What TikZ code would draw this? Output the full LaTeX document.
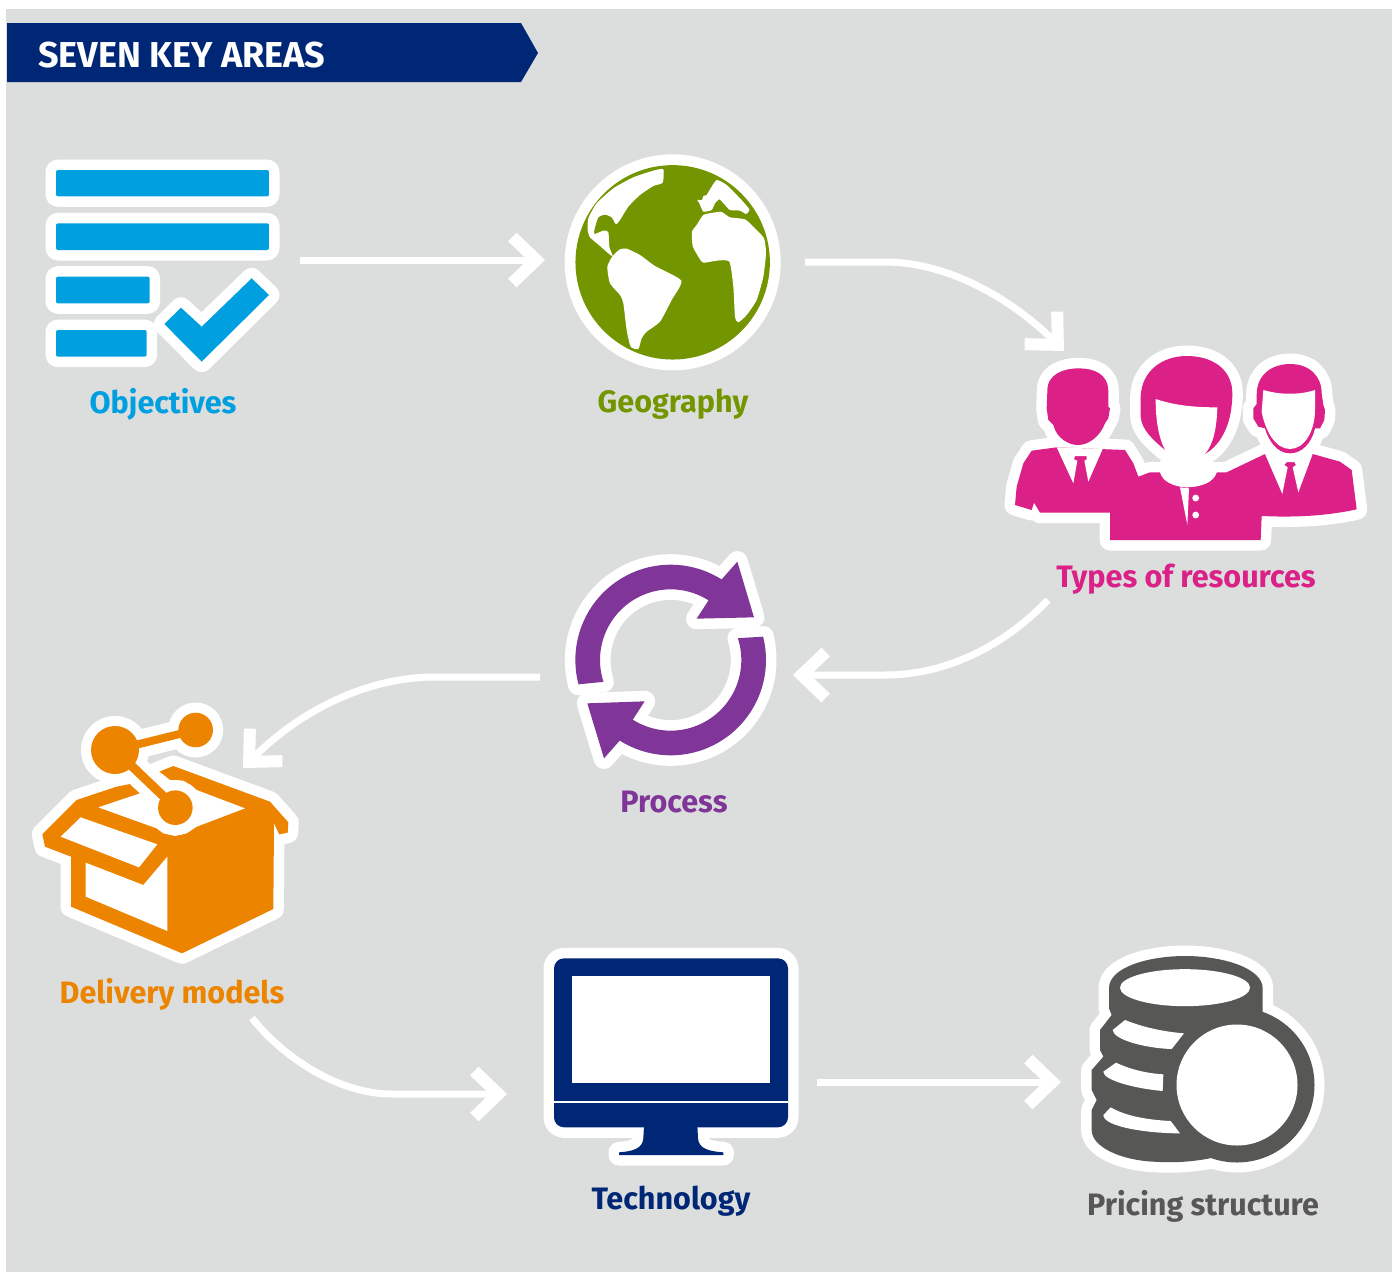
\documentclass[tikz,border=0pt]{standalone}
\usepackage{fontspec}
\setmainfont{Fira Sans}
\usetikzlibrary{arrows.meta}
\definecolor{bggray}{HTML}{DCDEDE}
\definecolor{navy}{HTML}{002776}
\definecolor{cblue}{HTML}{009FDF}
\definecolor{cgreen}{HTML}{739600}
\definecolor{cpink}{HTML}{DB2187}
\definecolor{cpurple}{HTML}{7F3698}
\definecolor{corange}{HTML}{EC8400}
\definecolor{cgrey}{HTML}{575756}
\tikzset{
  halo/.style={draw=white,line width=21pt,line join=round},
  cut/.style={fill=white},
  lab/.style={font=\fontsize{31}{31}\selectfont\bfseries,inner sep=0pt,transform shape,xscale=.985},
  flow/.style={draw=white,line width=7pt,-{Straight Barb[length=24pt,width=46pt,line width=12pt]}},
  zoomed/.style={x=0.33333pt,y=-0.33333pt}
}
\newcommand\halofill[2]{\path[halo] #2; \path[fill=#1] #2;}
\begin{document}
\begin{tikzpicture}[x=1pt,y=-1pt]
\useasboundingbox (0,0) rectangle (1397,1272);
\fill[white] (0,0) rectangle (1397,1272);
\fill[bggray] (6,9) rectangle (1392,1272);
% banner
\fill[navy] (7,23) -- (521,23) -- (538,53) -- (521,82) -- (7,82) -- cycle;
\node[anchor=west,text=white,font=\fontsize{36}{36}\selectfont\bfseries,inner sep=0pt] (title) at (38,55.5) {SEVEN KEY AREAS};

% objectives
\begin{scope}[shift={(30,150)},zoomed]
\foreach \a/\b/\c/\d in {78/60/717/139,78/220/717/300,78/380/359/460,78/540/350/620}{
  \path[halo,fill=white,rounded corners=2pt] (\a,\b) rectangle (\c,\d);
  \path[fill=cblue,rounded corners=2pt] (\a,\b) rectangle (\c,\d);
}
\halofill{cblue}{(403,522) -- (453,473) -- (515,530) -- (665,385) -- (717,435) -- (515,635) -- cycle}
\end{scope}

% globe
\begin{scope}[shift={(540,140)},zoomed]
\path[fill=white] (398,367) circle[radius=108pt];
\path[fill=cgreen] (398,367) circle[radius=97.2pt];
\fill[white] plot[smooth cycle,tension=.35] coordinates {(370,88)(368,128)(340,138)(300,165)(265,200)(240,240)(228,253)(215,232)(195,224)(175,232)(165,262)(163,282)(190,272)(205,276)(208,320)(218,348)(205,340)(180,318)(150,292)(143,270)(145,235)(170,190)(220,145)(280,112)(340,92)};
\fill[white] plot[smooth cycle,tension=.35] coordinates {(218,348)(240,328)(260,326)(300,345)(345,378)(424,422)(395,480)(360,545)(320,575)(305,595)(295,627)(272,620)(260,570)(250,490)(240,465)(210,430)(202,380)};
\fill[white] plot[smooth cycle,tension=.3] coordinates {(530,120)(560,135)(600,175)(628,208)(618,222)(600,212)(570,210)(555,195)(538,178)(525,190)(515,210)(490,215)(478,190)(472,180)(486,180)(490,168)(500,165)(510,148)};
\fill[white] plot[smooth cycle,tension=.35] coordinates {(490,225)(520,218)(545,216)(570,232)(615,238)(645,265)(672,295)(678,340)(670,410)(650,480)(620,525)(595,547)(585,530)(580,440)(568,365)(530,362)(490,368)(475,350)(458,318)(456,275)(470,255)};
\end{scope}

% people
\begin{scope}[shift={(990,330)},zoomed]
\def\bodyshape{(125,362) -- (200,352) -- (405,360) -- (430,400) -- (445,440) -- (480,427) -- (510,427) .. controls (520,460) and (560,470) .. (590,472) .. controls (630,470) and (670,460) .. (680,427) -- (710,427) -- (825,372) -- (968,372) -- (1050,395) -- (1085,420) -- (1100,538) .. controls (1000,560) and (900,562) .. (815,558) -- (812,630) -- (360,630) -- (360,548) -- (150,548) -- (132,518) -- (125,540) -- (75,525) -- (80,470) -- (100,400) -- cycle}
\def\leftshape{(172,185) .. controls (170,130) and (225,115) .. (265,115) .. controls (310,115) and (355,130) .. (355,185) -- (355,230) -- (360,235) -- (355,265) -- (345,280) .. controls (330,320) and (295,345) .. (265,345) .. controls (235,345) and (200,325) .. (190,285) -- (175,270) -- (170,235) -- cycle}
\def\midshape{(452,200) .. controls (455,120) and (520,78) .. (590,78) .. controls (670,78) and (727,120) .. (727,190) .. controls (727,270) and (700,340) .. (645,372) -- (525,360) .. controls (490,330) and (455,300) .. (452,260) -- cycle}
\def\rightshape{(800,195) .. controls (800,130) and (850,102) .. (900,102) .. controls (960,102) and (995,140) .. (995,190) -- (1000,225) -- (1005,240) -- (1003,270) -- (990,295) -- (975,295) .. controls (965,340) and (935,370) .. (900,370) .. controls (860,370) and (835,330) .. (825,295) -- (805,290) -- (790,265) -- (790,235) -- (800,222) -- cycle}
\path[halo,fill=white] \bodyshape;
\path[halo,fill=white] \leftshape;
\path[halo,fill=white] \midshape;
\path[halo,fill=white] \rightshape;
\path[fill=cpink] \bodyshape;
\path[fill=cpink] \leftshape;
\path[fill=cpink] \midshape;
\path[fill=cpink] \rightshape;
% centre face, neck
\path[cut] (497,207) .. controls (560,228) and (620,232) .. (682,232) .. controls (680,290) and (672,340) .. (645,372) -- (690,420) -- (680,427) .. controls (670,460) and (630,470) .. (590,472) .. controls (560,470) and (520,460) .. (510,427) -- (500,420) -- (525,360) .. controls (505,320) and (497,270) .. (497,207) -- cycle;
\path[cut] (570,472) -- (592,585) -- (597,475) -- cycle;
\path[cut] (617,504) circle[radius=3.4pt];
\path[cut] (617,555) circle[radius=3.4pt];
% shirt fronts
\path[cut] (200,352) -- (250,460) -- (262,392) -- (252,388) -- (255,378) -- (290,378) -- (290,388) -- (283,392) -- (295,455) -- (338,357) -- cycle;
\path[cut] (825,372) -- (877,492) -- (893,412) -- (883,405) -- (890,396) -- (913,396) -- (918,405) -- (908,412) -- (925,487) -- (968,372) -- cycle;
% right face
\path[cut] (820,180) .. controls (870,195) and (930,195) .. (975,180) -- (975,240) .. controls (975,300) and (945,357) .. (900,357) .. controls (855,357) and (825,300) .. (815,245) -- cycle;
\end{scope}

% process
\begin{scope}[shift={(550,540)},zoomed]
\def\arrowa{(85,433) -- plot[domain=195:57.7,samples=40] ({362+286*cos(\x)},{360-286*sin(\x)}) -- (562,65) -- (612,232) -- (440,236) -- (475,182) -- plot[domain=57.6:198,samples=40] ({362+212*cos(\x)},{360-212*sin(\x)}) -- cycle}
\def\arrowb{(640,290) -- plot[domain=14:-122.3,samples=40] ({362+286*cos(\x)},{360-286*sin(\x)}) -- (162,655) -- (112,490) -- (284,484) -- (249,538) -- plot[domain=-122.4:18,samples=40] ({362+212*cos(\x)},{360-212*sin(\x)}) -- cycle}
\path[halo] \arrowa;
\path[halo] \arrowb;
\path[fill=cpurple] \arrowa;
\path[fill=cpurple] \arrowb;
\end{scope}

% box
\begin{scope}[shift={(20,690)},zoomed]
\def\boxshape{(67,433) -- (170,330) -- (290,290) -- (330,282) -- (418,245) -- (460,228) -- (750,335) -- (805,397) -- (803,428) -- (778,433) -- (762,400) -- (760,657) -- (486,790) -- (153,650) -- (153,500) -- (75,470) -- cycle}
\path[halo,fill=white] \boxshape;
\path[fill=corange] \boxshape;
\path[cut] (235,352) -- (360,310) -- (330,282) -- (418,245) -- (450,270) -- (490,272) -- (530,300) -- (675,355) -- (530,410) -- (500,430) -- (465,438) -- (430,430) -- (410,415) -- cycle;
\path[cut] (122,440) -- (182,382) -- (412,463) -- (357,532) -- cycle;
\path[cut] (197,518) -- (370,585) -- (442,500) -- (442,723) -- (197,620) -- cycle;
% network
\path[fill=white] (285,180) circle[radius=34pt];
\path[fill=white] (527,120) circle[radius=27.5pt];
\path[fill=white] (466,353) circle[radius=27.5pt];
\draw[white,line width=28pt] (285,180) -- (527,120);
\draw[corange,line width=8pt] (285,180) -- (527,120);
\draw[white,line width=28pt] (285,180) -- (466,353);
\draw[corange,line width=9pt] (285,180) -- (466,353);
\path[fill=corange] (285,180) circle[radius=24pt];
\path[fill=corange] (527,120) circle[radius=17.3pt];
\path[fill=corange] (466,353) circle[radius=17.3pt];
\end{scope}

% monitor
\begin{scope}[shift={(530,940)},zoomed]
\def\standshape{(342,556) -- (502,556) -- (504,595) .. controls (506,625) and (535,634) .. (580,637) -- (580,645) -- (267,645) -- (267,637) .. controls (310,634) and (338,625) .. (340,595) -- cycle}
\path[halo,fill=white] \standshape;
\path[halo,fill=white,rounded corners=10pt] (72,55) rectangle (774,562);
\path[fill=navy,rounded corners=10pt] (72,55) rectangle (774,562);
\path[fill=navy] \standshape;
\path[cut] (127,108) rectangle (720,430);
\path[cut] (72,482) rectangle (774,488);
\end{scope}

% coins
\begin{scope}[shift={(1070,940)},zoomed]
\def\stackshape{(117,145) .. controls (117,80) and (240,48) .. (345,48) .. controls (460,48) and (578,85) .. (578,145) -- (578,215) -- (420,655) .. controls (350,668) and (300,668) .. (250,665) .. controls (150,660) and (65,620) .. (65,570) -- (65,510) -- (80,480) -- (65,450) -- (65,390) -- (100,350) -- (90,330) -- (90,270) -- (125,225) -- (117,205) -- cycle}
\path[halo,fill=white] \stackshape;
\path[fill=white] (501,435) circle[radius=87.5pt];
\path[fill=cgrey] \stackshape;
\path[fill=cgrey] (501,435) circle[radius=77.5pt];
\path[cut] (345,143) ellipse[x radius=65pt,y radius=18.5pt];
\path[cut] (165,240) .. controls (220,262) and (280,275) .. (342,280) -- (305,327) .. controls (230,325) and (130,300) .. (128,270) -- cycle;
\path[cut] (138,368) .. controls (180,388) and (230,400) .. (280,403) -- (278,453) .. controls (190,445) and (100,420) .. (100,395) -- cycle;
\path[cut] (122,502) .. controls (170,530) and (240,540) .. (302,543) -- (330,580) .. controls (230,580) and (100,560) .. (100,525) -- cycle;
\path[cut] (501,435) circle[radius=60.5pt];
\end{scope}

% labels
\node[lab,text=cblue] (objectives) at (163,404) {Objectives};
\node[lab,text=cgreen] (geography) at (673,404) {Geography};
\node[lab,text=cpink] (resources) at (1186,579.5) {Types of resources};
\node[lab,text=cpurple] (process) at (674,802) {Process};
\node[lab,text=corange] (delivery) at (172,994) {Delivery models};
\node[lab,text=navy] (technology) at (671,1201) {Technology};
\node[lab,text=cgrey] (pricing) at (1203,1206) {Pricing structure};

% connector ends
\coordinate (a1) at (300,260);
\coordinate (a2) at (545,260);
\coordinate (b1) at (805,262);
\coordinate (b2) at (1064,351);
\coordinate (c1) at (1048,600);
\coordinate (c2) at (793,675);
\coordinate (d1) at (540,677);
\coordinate (d2) at (243,768);
\coordinate (e1) at (252,1018);
\coordinate (e2) at (507,1094);
\coordinate (f1) at (817,1082);
\coordinate (f2) at (1061,1082);
\draw[flow] (a1) -- (a2);
\draw[flow] (b1) -- ++(80,0) .. controls +(65,0) and +(-50,-50) .. (b2);
\draw[flow] (c1) .. controls +(-45,47) and +(60,0) .. ++(-163,75) -- (c2);
\draw[flow] (d1) -- ++(-105,0) .. controls +(-65,0) and +(60,-60) .. (d2);
\draw[flow] (e1) .. controls +(30,38) and +(-55,0) .. ++(140,76) -- (e2);
\draw[flow] (f1) -- (f2);
\end{tikzpicture}
\end{document}
